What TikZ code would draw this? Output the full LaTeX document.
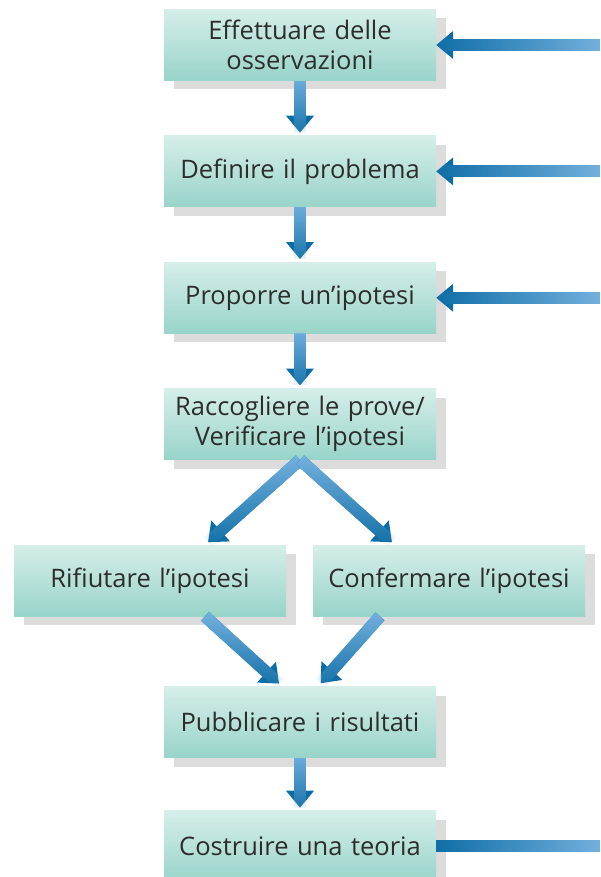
\documentclass[tikz,border=0pt]{standalone}
\usepackage{fontspec}
\setmainfont{Open Sans}
\usepackage{tikz}
\usetikzlibrary{arrows.meta,positioning,shadows,fadings}
\definecolor{boxtop}{RGB}{214,238,234}
\definecolor{boxbot}{RGB}{152,212,201}
\definecolor{shadowgray}{RGB}{220,220,220}
\definecolor{arrowdark}{RGB}{12,108,164}
\definecolor{arrowlight}{RGB}{118,178,224}
\definecolor{textgray}{RGB}{45,45,45}
\tikzfading[name=tailtop, top color=transparent!0, bottom color=transparent!100]
\tikzfading[name=tailright, right color=transparent!0, left color=transparent!100]

\begin{document}
\begin{tikzpicture}[
  x=1pt, y=1pt,
  node distance=55pt,
  stepbox/.style={
    rectangle, top color=boxtop, bottom color=boxbot, draw=none,
    minimum width=272pt, minimum height=71pt, text width=268pt,
    align=center, inner sep=0pt, text=textgray,
    font=\fontsize{25.5}{30}\selectfont,
    drop shadow={shadow xshift=10pt, shadow yshift=-9pt,
      fill=shadowgray, opacity=1}
  },
  arr/.style={-{Triangle[length=17pt,width=27pt]}, line width=12pt, arrowdark,
    postaction={draw=arrowlight, -, path fading=#1}},
  arr/.default=tailtop,
  bar/.style={line width=12pt, arrowdark,
    postaction={draw=arrowlight, path fading=tailright}},
]
\useasboundingbox (0,0) rectangle (600,-877);
\coordinate (edge) at (600,0);

% ── Nodes ──
\node[stepbox] (osserva) at (300,-45)
  {Effettuare delle\\osservazioni};

\node[stepbox, below=of osserva] (problema)
  {Definire il problema};

\node[stepbox, below=of problema] (ipotesi)
  {Proporre un’ipotesi};

\node[stepbox, below=of ipotesi] (raccogli)
  {Raccogliere le prove/\\Verificare l’ipotesi};

\node[stepbox, below=85pt of raccogli, xshift=-150pt] (rifiuta)
  {Rifiutare l’ipotesi};

\node[stepbox, below=85pt of raccogli, xshift=149pt] (conferma)
  {Confermare l’ipotesi};

\node[stepbox, below=70pt of rifiuta, xshift=150pt] (pubblica)
  {Pubblicare i risultati};

\node[stepbox, below=53pt of pubblica] (teoria)
  {Costruire una teoria};

% ── Edges ──
\draw[arr, shorten >=3pt] (osserva) -- (problema);
\draw[arr, shorten >=3pt] (problema) -- (ipotesi);
\draw[arr, shorten >=3pt] (ipotesi) -- (raccogli);
\draw[arr, shorten >=4pt] (raccogli.south) -- ([xshift=55pt]rifiuta.north);
\draw[arr, shorten >=4pt] (raccogli.south) -- ([xshift=-54pt]conferma.north);
\draw[arr, shorten >=4pt] ([xshift=55pt]rifiuta.south) -- ([xshift=-18pt]pubblica.north);
\draw[arr, shorten >=4pt] ([xshift=-69pt]conferma.south) -- ([xshift=18pt]pubblica.north);
\draw[arr, shorten >=3pt] (pubblica) -- (teoria);

% ── Feedback ──
\draw[arr=tailright] (osserva.east -| edge) -- (osserva.east);
\draw[arr=tailright] (problema.east -| edge) -- (problema.east);
\draw[arr=tailright] (ipotesi.east -| edge) -- (ipotesi.east);
\draw[bar] (teoria.east) -- (teoria.east -| edge);
\end{tikzpicture}
\end{document}
